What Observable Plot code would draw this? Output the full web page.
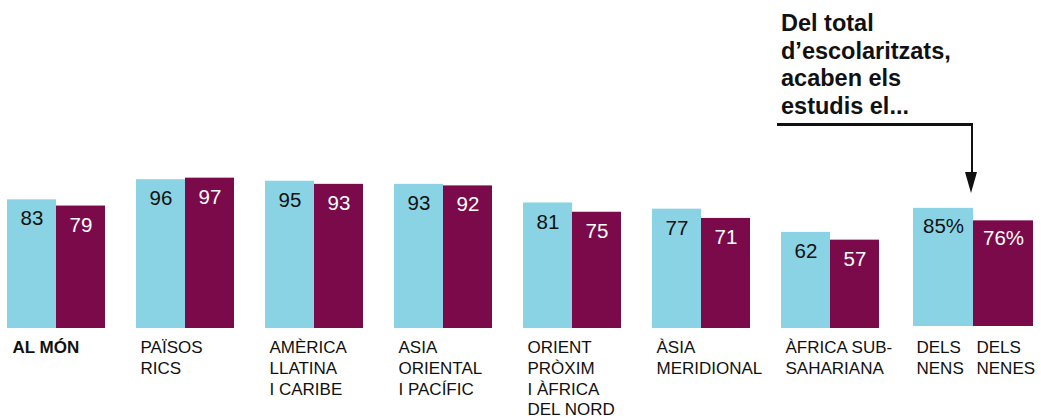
<!DOCTYPE html>
<html>
<head>
<meta charset="utf-8">
<script src="https://cdn.jsdelivr.net/npm/d3@7"></script>
<script src="https://cdn.jsdelivr.net/npm/@observablehq/plot@0.6"></script>
<style>
  html, body { margin: 0; padding: 0; background: #fff; }
  #wrap { position: relative; width: 1041px; height: 419px; overflow: hidden; font-family: "Liberation Sans", Arial, Helvetica, sans-serif; }
  #main, #key { position: absolute; top: 0; }
  #main { left: 0; }
  #key { left: 890px; }
  #note { position: absolute; left: 781px; top: 10px; font-weight: bold; font-size: 23.5px; line-height: 27.5px; color: #111; white-space: pre; }
  .arr-h { position: absolute; left: 777px; top: 123px; width: 196px; height: 2.5px; background: #111; }
  .arr-v { position: absolute; left: 970.5px; top: 123px; width: 2.5px; height: 52px; background: #111; }
  .arr-head { position: absolute; left: 965.2px; top: 172px; width: 0; height: 0; border-left: 6.5px solid transparent; border-right: 6.5px solid transparent; border-top: 21px solid #111; }
</style>
</head>
<body>
<div id="wrap">
  <div id="main"></div>
  <div id="key"></div>
  <div id="note"></div>
  <div class="arr-h"></div>
  <div class="arr-v"></div>
  <div class="arr-head"></div>
</div>
<script>
// ---- data ----
const regions = [
  "AL MÓN",
  "PAÏSOS\nRICS",
  "AMÈRICA\nLLATINA\nI CARIBE",
  "ASIA\nORIENTAL\nI PACÍFIC",
  "ORIENT\nPRÒXIM\nI ÀFRICA\nDEL NORD",
  "ÀSIA\nMERIDIONAL",
  "ÀFRICA SUB-\nSAHARIANA"
];
const boys  = [83, 96, 95, 93, 81, 77, 62];
const girls = [79, 97, 93, 92, 75, 71, 57];
const sexes = ["nens", "nenes"];
const keyLabels = ["DELS\nNENS", "DELS\nNENES"];
const keyValues = [85, 76];
const noteLines = ["Del total", "d\u2019escolaritzats,", "acaben els", "estudis el..."];

// ---- styles ----
const BLUE = "#8AD3E4";
const MAROON = "#7A0A4A";
const FONT = "Liberation Sans, Arial, Helvetica, sans-serif";
const SVG_STYLE = {background: "transparent", overflow: "visible", fontFamily: FONT};

const rows = regions.flatMap((r, i) => [
  {region: r, sex: sexes[0], value: boys[i]},
  {region: r, sex: sexes[1], value: girls[i]}
]);

const main = Plot.plot({
  width: 890,
  height: 419,
  marginLeft: 6,
  marginRight: 10,
  marginTop: 173,
  marginBottom: 91,
  style: SVG_STYLE,
  fx: {domain: regions, paddingInner: 0.232, paddingOuter: 0, axis: null, label: null},
  x: {domain: sexes, padding: 0, axis: null},
  y: {domain: [0, 100], axis: null},
  color: {domain: sexes, range: [BLUE, MAROON]},
  marks: [
    Plot.barY(rows, {fx: "region", x: "sex", y: "value", fill: "sex"}),
    Plot.text(rows.filter(d => d.sex === sexes[0]), {fx: "region", x: "sex", y: "value", text: d => String(d.value),
      lineAnchor: "top", dy: 11, fill: "#111", fontSize: 20.5, fontFamily: FONT}),
    Plot.text(rows.filter(d => d.sex === sexes[1]), {fx: "region", x: "sex", y: "value", text: d => String(d.value),
      lineAnchor: "top", dy: 11, fill: "#fff", fontSize: 20.5, fontFamily: FONT}),
    Plot.text(regions.slice(0, 1), {fx: d => d, text: d => d, frameAnchor: "bottom-left", textAnchor: "start",
      lineAnchor: "top", dy: 10, dx: 6, fontSize: 17, lineHeight: 1.22, fontWeight: "bold", fill: "#111", fontFamily: FONT}),
    Plot.text(regions.slice(1), {fx: d => d, text: d => d, frameAnchor: "bottom-left", textAnchor: "start",
      lineAnchor: "top", dy: 10, dx: 5, fontSize: 17, lineHeight: 1.22, fill: "#111", fontFamily: FONT})
  ]
});
document.getElementById("main").appendChild(main);

const keyRows = keyLabels.map((l, i) => ({label: l, value: keyValues[i]}));
const key = Plot.plot({
  width: 151,
  height: 419,
  marginLeft: 22,
  marginRight: 8,
  marginTop: 187,
  marginBottom: 93,
  style: SVG_STYLE,
  fx: {domain: keyLabels, padding: 0, axis: null, label: null},
  y: {domain: [0, 100], axis: null},
  color: {domain: keyLabels, range: [BLUE, MAROON]},
  marks: [
    Plot.barY(keyRows, {fx: "label", y: "value", fill: "label"}),
    Plot.text(keyRows.slice(0, 1), {fx: "label", y: "value", text: d => d.value + "%",
      lineAnchor: "top", dy: 10, fill: "#111", fontSize: 20.5, fontFamily: FONT}),
    Plot.text(keyRows.slice(1), {fx: "label", y: "value", text: d => d.value + "%",
      lineAnchor: "top", dy: 10, fill: "#fff", fontSize: 20.5, fontFamily: FONT}),
    Plot.text(keyLabels, {fx: d => d, text: d => d, frameAnchor: "bottom-left", textAnchor: "start",
      lineAnchor: "top", dy: 12, dx: 3, fontSize: 17, lineHeight: 1.22, fill: "#111", fontFamily: FONT})
  ]
});
document.getElementById("key").appendChild(key);

document.getElementById("note").textContent = noteLines.join("\n");
</script>
</body>
</html>
